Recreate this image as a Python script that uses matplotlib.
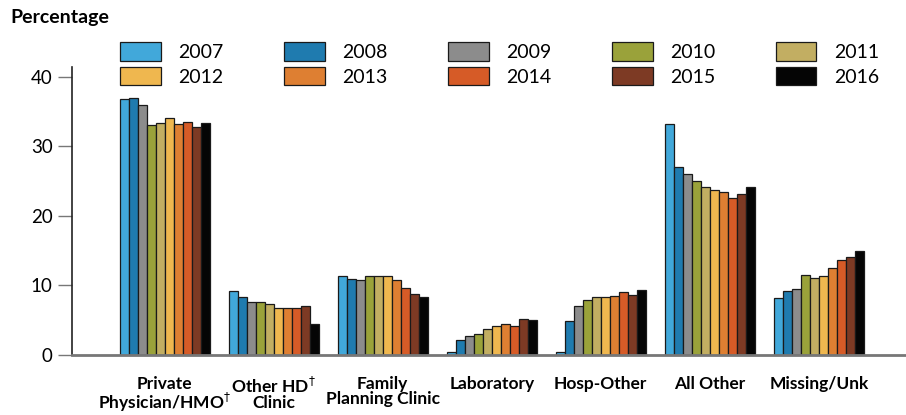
import numpy as np
import matplotlib
matplotlib.use("Agg")
import matplotlib.pyplot as plt

plt.rcParams['font.family'] = ['Lato', 'DejaVu Sans']

categories = ["Private\nPhysician/HMO$^{\\dagger}$", "Other HD$^{\\dagger}$\nClinic",
              "Family\nPlanning Clinic", "Laboratory", "Hosp-Other", "All Other", "Missing/Unk"]
years = ["2007", "2008", "2009", "2010", "2011", "2012", "2013", "2014", "2015", "2016"]

# percentage by year, one list per category (2007..2016)
private_hmo = [36.8, 37.0, 35.9, 33.1, 33.4, 34.0, 33.2, 33.5, 32.8, 33.4]
other_hd = [9.2, 8.3, 7.6, 7.6, 7.3, 6.7, 6.8, 6.7, 7.1, 4.5]
family_planning = [11.4, 10.9, 10.8, 11.4, 11.3, 11.4, 10.8, 9.7, 8.7, 8.3]
laboratory = [0.4, 2.2, 2.8, 3.0, 3.8, 4.1, 4.4, 4.2, 5.2, 5.1]
hosp_other = [0.5, 4.9, 7.0, 7.9, 8.3, 8.4, 8.5, 9.1, 8.6, 9.4]
all_other = [33.2, 27.0, 26.0, 25.0, 24.2, 23.7, 23.5, 22.6, 23.1, 24.1]
missing_unk = [8.2, 9.2, 9.5, 11.5, 11.1, 11.3, 12.5, 13.7, 14.1, 14.9]

colors = ["#41A8DA", "#1F7BAF", "#8C8C8C", "#9AA23A", "#C2AE62",
          "#EFB74F", "#DE7F32", "#D65B27", "#7D3A24", "#050505"]

data = np.array([private_hmo, other_hd, family_planning, laboratory,
                 hosp_other, all_other, missing_unk])

fig = plt.figure(figsize=(9.06, 4.15), dpi=100)
ax = fig.add_axes([0.0795, 0.1446, 0.9205, 0.694])

x = np.arange(len(categories))
width = 0.0826
handles = []
for i, year in enumerate(years):
    b = ax.bar(x + (i - 4.5) * width, data[:, i], width, color=colors[i],
               edgecolor="#1a1a1a", linewidth=0.9, label=year)
    handles.append(b)

ax.set_xlim(-0.85, 6.8)
ax.set_ylim(0, 41.4)
ax.set_yticks([0, 10, 20, 30, 40])
ax.tick_params(axis='y', labelsize=13.5, length=10, width=1, color="#777777", pad=4)
ax.set_xticks(x)
ax.set_xticklabels(categories, fontsize=12.5, fontweight='bold', linespacing=0.95)
ax.tick_params(axis='x', length=0, pad=15)

for s in ['top', 'right']:
    ax.spines[s].set_visible(False)
ax.spines['left'].set_color("#222222")
ax.spines['left'].set_linewidth(1.2)
ax.spines['bottom'].set_color("#777777")
ax.spines['bottom'].set_linewidth(2)

# legend: row 1 = 2007..2011, row 2 = 2012..2016 (matplotlib fills by column)
order = [0, 5, 1, 6, 2, 7, 3, 8, 4, 9]
fig.legend([handles[k] for k in order], [years[k] for k in order], ncol=5,
           loc='upper left', bbox_to_anchor=(120 / 906, 1 - 42 / 415),
           frameon=False, fontsize=14, handlelength=2.1, handleheight=1.1,
           handletextpad=0.9, columnspacing=3.1, labelspacing=0.3, borderpad=0,
           borderaxespad=0)

fig.text(10 / 906, 1 - 18 / 415, "Percentage", fontsize=14, fontweight='bold',
         va='center', ha='left')

fig.savefig("out.png", dpi=100)
